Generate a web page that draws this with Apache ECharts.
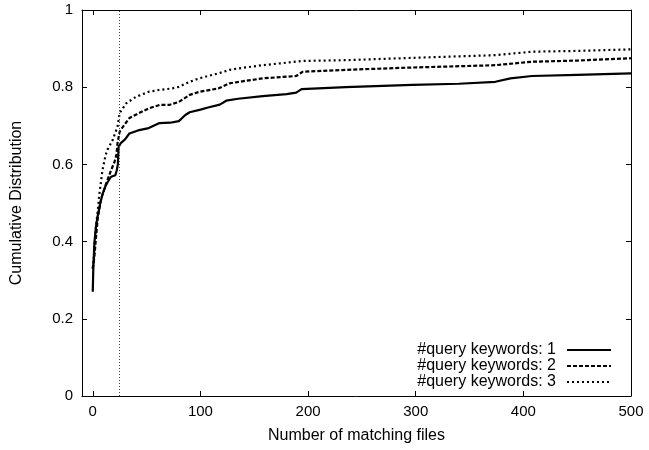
<!DOCTYPE html>
<html>
<head>
<meta charset="utf-8">
<script src="https://cdn.jsdelivr.net/npm/echarts@6/dist/echarts.min.js"></script>
<style>html,body{margin:0;padding:0;background:#fff}#c{width:649px;height:450px}</style>
</head>
<body>
<div id="c"></div>
<script>
var xTicks = [0, 100, 200, 300, 400, 500];
var yTicks = [0, 0.2, 0.4, 0.6, 0.8, 1];
var legendNames = ['#query keywords: 1', '#query keywords: 2', '#query keywords: 3'];
var markerX = 25;

var s1x = [0, 0.5, 1.5, 3, 4.5, 7, 9.3, 12, 14, 17, 21, 22.3, 23.3, 24, 26, 30, 34, 42, 52, 62, 72, 80, 86, 90, 100, 108, 118, 124, 135, 158, 180, 189, 194, 235, 297, 340, 374, 388, 408, 450, 500];
var s1y = [0.27, 0.33, 0.396, 0.44, 0.465, 0.50, 0.525, 0.545, 0.555, 0.568, 0.572, 0.585, 0.60, 0.645, 0.655, 0.665, 0.68, 0.688, 0.694, 0.707, 0.708, 0.712, 0.728, 0.735, 0.742, 0.748, 0.755, 0.765, 0.77, 0.777, 0.782, 0.786, 0.795, 0.80, 0.806, 0.809, 0.814, 0.823, 0.829, 0.832, 0.836];

var s2x = [0, 1.5, 3, 4.6, 7.7, 12.4, 17, 20, 22, 23, 25, 30, 34, 43, 52, 62, 71, 80, 90, 99, 117, 127, 136, 158, 189, 195, 235, 297, 374, 408, 450, 500];
var s2y = [0.33, 0.36, 0.41, 0.46, 0.51, 0.55, 0.585, 0.605, 0.625, 0.655, 0.685, 0.705, 0.72, 0.733, 0.745, 0.754, 0.754, 0.762, 0.78, 0.788, 0.797, 0.81, 0.814, 0.823, 0.829, 0.84, 0.845, 0.851, 0.857, 0.866, 0.869, 0.875];

var s3x = [0, 1, 2, 3, 5, 6, 9, 12, 14, 18.5, 23, 25, 31, 40, 52, 62, 74, 80, 90, 99, 117, 127, 136, 158, 195, 235, 297, 374, 408, 450, 500];
var s3y = [0.33, 0.36, 0.40, 0.44, 0.49, 0.52, 0.585, 0.625, 0.64, 0.663, 0.698, 0.733, 0.758, 0.775, 0.788, 0.793, 0.797, 0.801, 0.814, 0.823, 0.836, 0.845, 0.849, 0.857, 0.868, 0.870, 0.876, 0.883, 0.892, 0.894, 0.898];

function pairs(xs, ys) { return xs.map(function (x, i) { return [x, ys[i]]; }); }

var FONT = 'Liberation Sans';
var chart = echarts.init(document.getElementById('c'), null, {renderer: 'canvas'});
var axisLine = {show: true, onZero: false, lineStyle: {color: '#000', width: 1}};
var tick = {show: true, inside: true, length: 5, lineStyle: {color: '#000', width: 1}};

chart.setOption({
  animation: false,
  backgroundColor: '#fff',
  grid: {left: 82, right: 18, top: 10, bottom: 54, show: false},
  legend: {
    orient: 'vertical',
    right: 37,
    bottom: 60,
    padding: 0,
    align: 'right',
    itemWidth: 44,
    itemHeight: 10,
    itemGap: 0,
    data: legendNames,
    itemStyle: {color: 'rgba(0,0,0,0)', borderWidth: 0, opacity: 0},
    textStyle: {fontFamily: FONT, fontSize: 16, color: '#000', padding: [0, 6, 0, 0]}
  },
  xAxis: [{
    type: 'value', min: -10, max: 500, position: 'bottom',
    name: 'Number of matching files', nameLocation: 'middle', nameGap: 32,
    nameTextStyle: {fontFamily: FONT, fontSize: 16, color: '#000'},
    axisLine: axisLine,
    axisTick: Object.assign({customValues: xTicks}, tick),
    axisLabel: {customValues: xTicks, fontFamily: FONT, fontSize: 15, color: '#000', margin: 8},
    splitLine: {show: false}
  }, {
    type: 'value', min: -10, max: 500, position: 'top',
    axisLine: axisLine,
    axisTick: Object.assign({customValues: xTicks}, tick),
    axisLabel: {show: false},
    splitLine: {show: false}
  }],
  yAxis: [{
    type: 'value', min: 0, max: 1, interval: 0.2, position: 'left',
    name: 'Cumulative Distribution', nameLocation: 'middle', nameGap: 57,
    nameTextStyle: {fontFamily: FONT, fontSize: 16, color: '#000'},
    axisLine: axisLine,
    axisTick: tick,
    axisLabel: {fontFamily: FONT, fontSize: 15, color: '#000', margin: 9,
      formatter: function (v) { return String(Math.round(v * 10) / 10); }},
    splitLine: {show: false}
  }, {
    type: 'value', min: 0, max: 1, interval: 0.2, position: 'right',
    axisLine: axisLine,
    axisTick: tick,
    axisLabel: {show: false},
    splitLine: {show: false}
  }],
  series: [{
    name: legendNames[0], type: 'line', symbol: 'none', data: pairs(s1x, s1y),
    lineStyle: {color: '#000', width: 2.2, type: 'solid'}, itemStyle: {color: '#000'},
    markLine: {
      silent: true, symbol: 'none', label: {show: false},
      lineStyle: {color: '#444', width: 1, type: [1, 2]},
      data: [{xAxis: markerX}]
    }
  }, {
    name: legendNames[1], type: 'line', symbol: 'none', data: pairs(s2x, s2y),
    lineStyle: {color: '#000', width: 2.2, type: [4, 2]}, itemStyle: {color: '#000'}
  }, {
    name: legendNames[2], type: 'line', symbol: 'none', data: pairs(s3x, s3y),
    lineStyle: {color: '#000', width: 2.2, type: [2, 3]}, itemStyle: {color: '#000'}
  }]
});
</script>
</body>
</html>
